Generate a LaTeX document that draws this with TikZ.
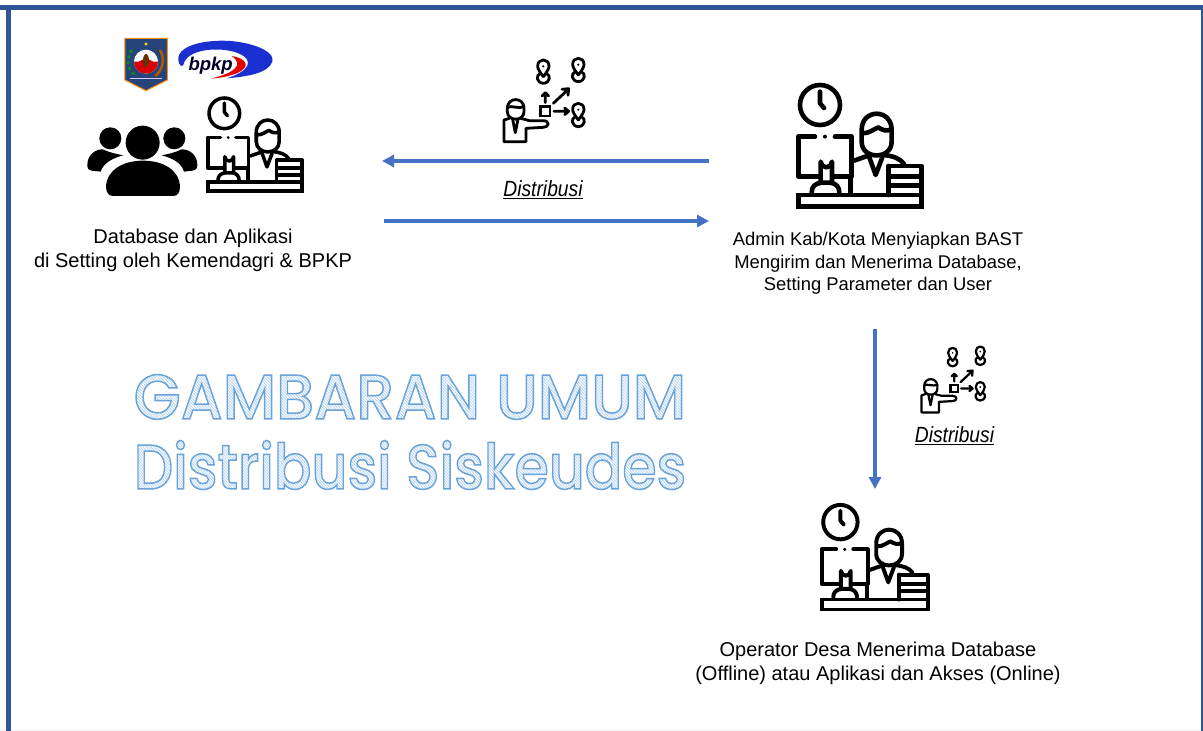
\documentclass[tikz,border=0pt]{standalone}
\usepackage{fontspec}
\setmainfont{Liberation Sans}
\newfontfamily\titlefont{Poppins Medium}
\usetikzlibrary{arrows.meta}
\definecolor{frameblue}{HTML}{2F5597}
\definecolor{arrowblue}{HTML}{4472C4}
\definecolor{logoblue}{HTML}{1A2FD0}
\tikzset{
  flow/.style={arrowblue,line width=3.6pt,-{Triangle[length=12pt,width=12pt]}},
  captionbig/.style={font=\fontsize{20}{24}\selectfont,align=center,text=black,inner sep=0pt},
  captionmid/.style={font=\fontsize{18.4}{22.5}\selectfont,align=center,text=black,inner sep=0pt},
  distlabel/.style={font=\fontsize{22}{24}\selectfont\itshape,text=black,inner sep=0pt},
  titletext/.style={inner sep=0pt,font=\titlefont\fontsize{63}{63}\selectfont},
  worker/.pic={
    \begin{scope}[x=0.3333pt*\wscale,y=-0.3333pt*\wscale,line width=4.6pt*\wscale,line cap=round,line join=round]
    \draw (120,105) circle (60);
    \draw (120,65)--(120,100)--(132,114);
    \draw (105,200)--(55,200)--(55,320)--(118,320) (160,320)--(215,320)--(215,200)--(165,200);
    \draw (122,338)--(122,275) arc (180:0:17)--(156,338);
    \fill (135,200) circle (6);
    \draw (95,368)..controls (95,350) and (105,340)..(125,338)--(150,338)..controls (168,340) and (178,350)..(178,368);
    \draw[line join=miter] (55,375) rectangle (425,410);
    \draw (245,180)..controls (245,115) and (335,115)..(335,180)--(335,215)..controls (335,270) and (245,270)..(245,215)--cycle;
    \draw (248,190)..controls (270,190) and (285,175)..(295,172)..controls (305,180) and (320,185)..(333,178);
    \draw (222,272)--(262,258);
    \draw (268,262)--(287,315)--(307,262);
    \draw (310,255)..controls (340,258) and (360,265)..(372,282);
    \draw (212,322)--(212,373);
    \draw (325,288)--(425,288)--(425,375) (325,288)--(325,375) (330,320)--(420,320) (330,347)--(420,347);
    \end{scope}
  },
  dist/.pic={
    \begin{scope}[x=0.3333pt*\wscale,y=-0.3333pt*\wscale,line width=2.8pt*\wscale,line cap=round,line join=round]
    \foreach \px/\py in {160/62,265/57,265/192}{
      \begin{scope}[shift={(\px,\py)}]
      \draw (0,18)..controls (-12,2) and (-17,-6)..(-17,-14)..controls (-17,-38) and (17,-38)..(17,-14)..controls (17,-6) and (12,2)..(0,18);
      \fill (0,-13) circle (3.5);
      \draw (-9,8)..controls (-24,14) and (-20,37)..(0,38)..controls (20,37) and (24,14)..(9,8);
      \end{scope}
    }
    \draw[line join=miter] (152,170) rectangle (180,198);
    \draw (166,158)--(166,130) (156,138)--(166,128)--(176,138);
    \draw (190,160)--(235,118) (216,118)--(236,116)--(234,136);
    \draw (192,184)--(235,184) (224,174)--(236,184)--(224,194);
    \draw (52,175)..controls (52,140) and (102,140)..(102,175)--(102,185)..controls (102,215) and (52,215)..(52,185)--cycle;
    \draw (52,172)..controls (65,165) and (85,178)..(102,170);
    \draw (58,205)--(42,210)--(42,275)--(108,275)--(108,235)--(160,232)..controls (178,232) and (180,212)..(160,212)--(118,212)--(92,205);
    \draw (68,208)--(76,248)--(84,208);
    \end{scope}
  }
}
\newcommand{\wscale}{1}
% hatch lines relative to the end of the text (pdf:content is translated to the current point)
\newcommand{\hatchlines}{}
\newcount\hcnt
\hcnt=-720
\loop\ifnum\hcnt<40
  \xdef\hatchlines{\hatchlines\the\hcnt\space 60 m \the\numexpr\hcnt+80\relax\space -20 l }
  \advance\hcnt by 3
\repeat
\newcommand{\hatchtext}[1]{%
  \rlap{\special{pdf:content 1 w}\special{pdf:code q 7 Tr}#1\special{pdf:content 0 Tr 0.8 w 0.72 0.84 0.96 RG \hatchlines S}\special{pdf:code Q}}%
  \special{pdf:content 1 w}\special{pdf:code q 1 Tr 1.5 w 0.42 0.64 0.85 RG}#1\special{pdf:content 1 w}\special{pdf:code Q}}
\begin{document}
\begin{tikzpicture}[x=1pt,y=-1pt]
\useasboundingbox (0,0) rectangle (1203,731);
\fill[white] (0,0) rectangle (1203,731);
% frame
\fill[black!5] (0,729.5) rectangle (1203,731);
\fill[frameblue] (0,5) rectangle (1203,10);
\fill[frameblue] (6,5) rectangle (11,731);
\fill[frameblue] (1201,5) rectangle (1203,731);

% logos
\begin{scope}[shift={(80,30)},x=0.3333pt,y=-0.3333pt]
  \filldraw[fill=frameblue!80!black,draw=orange!90!yellow,line width=1pt] (135,25)--(262,25)--(262,150)--(198,182)--(135,150)--cycle;
  \fill[white] (198,95) circle (36);
  \fill[red!85!black] (162,95) arc (180:0:36)--cycle;
  \fill[red!85!black] (198,102) ellipse (24 and 14);
  \fill[black!60!orange] (198,92) ellipse (9 and 20);
  \draw[green!60!black,line width=2.4pt,dashed] (155,60)..controls (135,90) and (145,125)..(170,138);
  \draw[orange!70!black,line width=2.5pt] (240,60)..controls (258,90) and (245,125)..(225,138);
  \fill[yellow!80!orange] (198,42) circle (5);
  \draw[white!80!blue,line width=1.2pt] (150,145)--(245,145);
  % bpkp swoosh
  \fill[logoblue] (295,90)..controls (290,40) and (400,25)..(470,35)..controls (540,45) and (585,70)..(577,95)..controls (565,130) and (500,140)..(440,145)..controls (505,125) and (530,90)..(470,68)..controls (420,50) and (320,55)..(310,105)..controls (305,112) and (296,105)..(295,90)--cycle;
  \fill[red!90!black] (455,78)..controls (500,85) and (515,110)..(470,130)..controls (450,138) and (420,145)..(395,145)..controls (460,130) and (495,105)..(455,78)--cycle;
  \node[font=\fontsize{18.5}{18}\selectfont\itshape\bfseries,text=black!85!blue,inner sep=0pt] (bpkptext) at (392,107) {bpkp};
\end{scope}

% group icon
\begin{scope}[shift={(80,30)},x=0.3333pt,y=-0.3333pt]
  \fill (188,338) circle (51);
  \fill (91,325) circle (33);
  \fill (283,325) circle (33);
  \fill (78,470)..controls (80,420) and (130,392)..(188,392)..controls (250,392) and (298,420)..(300,470)..controls (300,485) and (295,498)..(280,498)--(98,498)..controls (85,498) and (78,485)..(78,470)--cycle;
  \fill (22,405)..controls (22,375) and (45,358)..(68,358)..controls (90,368) and (110,372)..(130,376)..controls (95,385) and (70,400)..(62,425)--(35,422)..controls (25,420) and (22,415)..(22,405)--cycle;
  \fill (352,405)..controls (352,375) and (330,358)..(305,358)..controls (285,368) and (265,372)..(245,376)..controls (280,385) and (305,400)..(312,425)--(338,422)..controls (348,420) and (352,415)..(352,405)--cycle;
\end{scope}

% workers
\renewcommand{\wscale}{0.766}
\pic at (193.7,86.5) {worker};
\renewcommand{\wscale}{1}
\pic at (780,70) {worker};
\renewcommand{\wscale}{0.86}
\pic at (806,492) {worker};

% distribution icons
\renewcommand{\wscale}{1}
\pic at (490,50) {dist};
\renewcommand{\wscale}{0.79}
\pic at (910.5,340) {dist};

% captions
\node[captionbig] (cap1) at (193,250) {Database dan Aplikasi\\di Setting oleh Kemendagri \& BPKP};
\node[captionmid] (cap2) at (878,263.5) {Admin Kab/Kota Menyiapkan BAST\\Mengirim dan Menerima Database,\\Setting Parameter dan User};
\node[captionbig] (cap3) at (878,663.5) {Operator Desa Menerima Database\\(Offline) atau Aplikasi dan Akses (Online)};
\node[distlabel] (d1) at (543,190) {\scalebox{0.875}[1]{\underline{Distribusi}}};
\node[distlabel] (d2) at (954.5,436) {\scalebox{0.875}[1]{\underline{Distribusi}}};

% connectors
\coordinate (a1s) at (709,161); \coordinate (a1e) at (382,161);
\coordinate (a2s) at (384,221); \coordinate (a2e) at (709,221);
\coordinate (a3s) at (875,329); \coordinate (a3e) at (875,489);
\draw[flow] (a1s)--(a1e);
\draw[flow] (a2s)--(a2e);
\draw[flow] (a3s)--(a3e);

% title
\node[titletext] (t1) at (410,397) {\scalebox{0.96}[1]{\hatchtext{GAMBARAN UMUM}}};
\node[titletext] (t2) at (410,465) {\scalebox{0.88}[1]{\hatchtext{Distribusi Siskeudes}}};
\end{tikzpicture}
\end{document}
